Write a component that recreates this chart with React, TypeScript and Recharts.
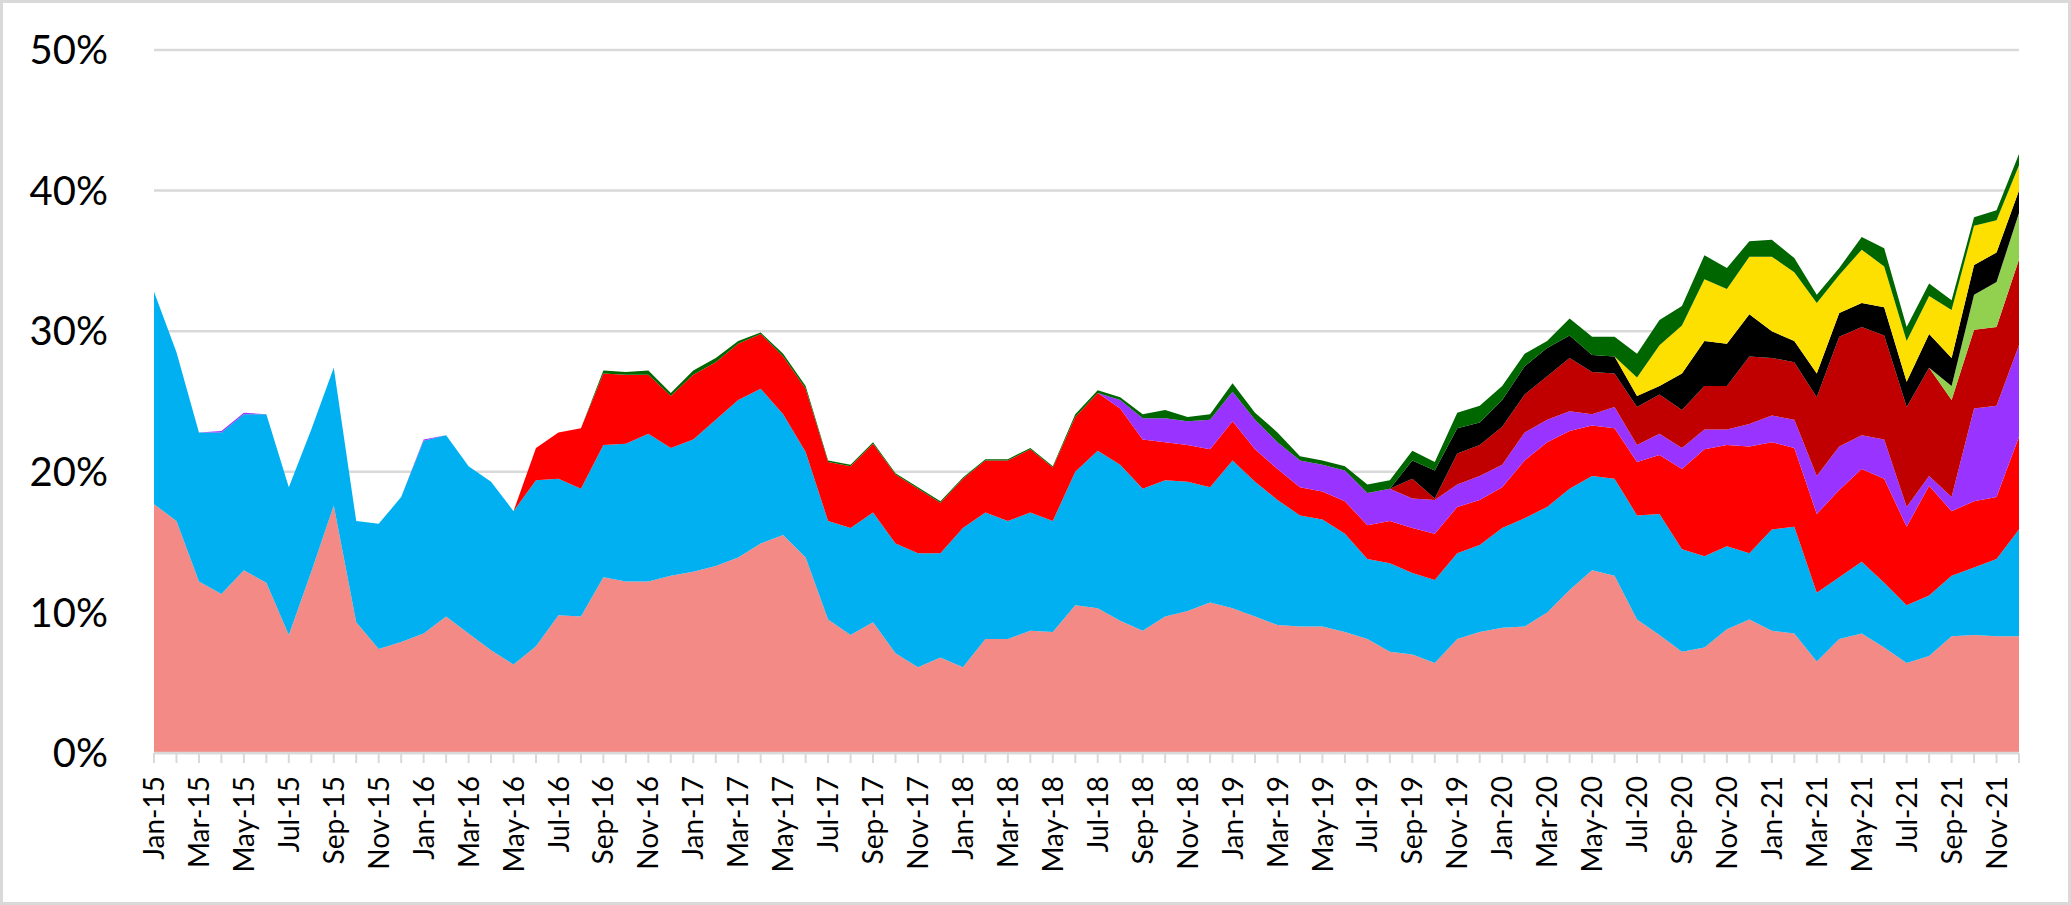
import { AreaChart, Area, XAxis, YAxis, CartesianGrid } from 'recharts'

const monthNames = ['Jan', 'Feb', 'Mar', 'Apr', 'May', 'Jun', 'Jul', 'Aug', 'Sep', 'Oct', 'Nov', 'Dec']
const years = ['15', '16', '17', '18', '19', '20', '21']
const months = years.flatMap((y) => monthNames.map((m) => `${m}-${y}`))

const yTicks = [0, 10, 20, 30, 40, 50]

// values in %, one per month, Jan-15 .. Dec-21
const pink = [
	17.7, 16.5, 12.2, 11.3, 13.0, 12.1, 8.4, 12.9, 17.6, 9.3, 7.4, 7.9,
	8.5, 9.7, 8.5, 7.3, 6.3, 7.6, 9.8, 9.7, 12.5, 12.2, 12.2, 12.6,
	12.9, 13.3, 13.9, 14.9, 15.5, 13.9, 9.5, 8.4, 9.3, 7.1, 6.1, 6.8,
	6.1, 8.1, 8.1, 8.7, 8.6, 10.5, 10.3, 9.4, 8.7, 9.7, 10.1, 10.7,
	10.3, 9.7, 9.1, 9.0, 9.0, 8.6, 8.1, 7.2, 7.0, 6.4, 8.1, 8.6,
	8.9, 9.0, 10.0, 11.6, 13.0, 12.6, 9.5, 8.4, 7.2, 7.5, 8.8, 9.5,
	8.7, 8.5, 6.5, 8.1, 8.5, 7.5, 6.4, 6.9, 8.3, 8.4, 8.3, 8.3,
]
const blue = [
	15.1, 12.0, 10.6, 11.5, 11.1, 12.0, 10.5, 10.1, 9.8, 7.2, 8.9, 10.3,
	13.7, 12.9, 11.9, 12.0, 10.9, 11.8, 9.7, 9.1, 9.4, 9.8, 10.5, 9.1,
	9.4, 10.4, 11.2, 11.0, 8.6, 7.5, 7.0, 7.6, 7.8, 7.8, 8.1, 7.4,
	9.9, 9.0, 8.4, 8.4, 7.9, 9.5, 11.2, 11.1, 10.1, 9.7, 9.2, 8.2,
	10.5, 9.6, 8.9, 7.9, 7.6, 7.0, 5.7, 6.3, 5.8, 5.9, 6.1, 6.2,
	7.1, 7.7, 7.5, 7.2, 6.7, 6.9, 7.4, 8.6, 7.3, 6.5, 5.9, 4.7,
	7.2, 7.6, 4.9, 4.4, 5.1, 4.6, 4.1, 4.3, 4.3, 4.8, 5.5, 7.6,
]
const red = [
	0, 0, 0, 0, 0, 0, 0, 0, 0, 0, 0, 0,
	0, 0, 0, 0, 0, 2.3, 3.3, 4.3, 5.1, 4.9, 4.2, 3.7,
	4.6, 4.1, 4.0, 3.9, 4.1, 4.5, 4.2, 4.4, 4.9, 4.9, 4.6, 3.6,
	3.5, 3.7, 4.3, 4.5, 3.8, 3.9, 4.1, 4.0, 3.5, 2.7, 2.6, 2.7,
	2.8, 2.3, 2.2, 2.0, 2.0, 2.3, 2.4, 3.0, 3.2, 3.3, 3.3, 3.2,
	2.9, 4.1, 4.6, 4.1, 3.6, 3.6, 3.8, 4.2, 5.7, 7.6, 7.2, 7.6,
	6.2, 5.6, 5.6, 6.2, 6.6, 7.4, 5.6, 7.8, 4.6, 4.7, 4.4, 6.6,
]
const purple = [
	0, 0, 0, 0.1, 0.1, 0, 0, 0, 0, 0, 0, 0,
	0.1, 0, 0, 0, 0, 0, 0, 0, 0, 0, 0, 0,
	0, 0, 0, 0, 0, 0, 0, 0, 0, 0, 0, 0,
	0, 0, 0, 0, 0, 0, 0, 0.6, 1.5, 1.7, 1.7, 2.1,
	2.1, 2.1, 1.9, 1.9, 1.9, 2.2, 2.3, 2.3, 2.1, 2.4, 1.6, 1.7,
	1.6, 2.0, 1.6, 1.4, 0.8, 1.5, 1.2, 1.5, 1.5, 1.4, 1.1, 1.6,
	1.9, 2.0, 2.7, 3.1, 2.4, 2.8, 1.4, 0.7, 1.0, 6.6, 6.5, 6.5,
]
const darkRed = [
	0, 0, 0, 0, 0, 0, 0, 0, 0, 0, 0, 0,
	0, 0, 0, 0, 0, 0, 0, 0, 0, 0, 0, 0,
	0, 0, 0, 0, 0, 0, 0, 0, 0, 0, 0, 0,
	0, 0, 0, 0, 0, 0, 0, 0, 0, 0, 0, 0,
	0, 0, 0, 0, 0, 0, 0, 0, 1.4, 0.1, 2.2, 2.2,
	2.7, 2.7, 3.1, 3.8, 3.0, 2.4, 2.7, 2.8, 2.7, 3.1, 3.1, 4.8,
	4.1, 4.1, 5.6, 7.8, 7.7, 7.4, 7.1, 7.7, 6.9, 5.6, 5.6, 6.1,
]
const lightGreen = [
	0, 0, 0, 0, 0, 0, 0, 0, 0, 0, 0, 0,
	0, 0, 0, 0, 0, 0, 0, 0, 0, 0, 0, 0,
	0, 0, 0, 0, 0, 0, 0, 0, 0, 0, 0, 0,
	0, 0, 0, 0, 0, 0, 0, 0, 0, 0, 0, 0,
	0, 0, 0, 0, 0, 0, 0, 0, 0, 0, 0, 0,
	0, 0, 0, 0, 0, 0, 0, 0, 0, 0, 0, 0,
	0, 0, 0, 0, 0, 0, 0, 0, 1.0, 2.5, 3.2, 3.3,
]
const black = [
	0, 0, 0, 0, 0, 0, 0, 0, 0, 0, 0, 0,
	0, 0, 0, 0, 0, 0, 0, 0, 0, 0, 0, 0,
	0, 0, 0, 0, 0, 0, 0, 0, 0, 0, 0, 0,
	0, 0, 0, 0, 0, 0, 0, 0, 0, 0, 0, 0,
	0, 0, 0, 0, 0, 0, 0, 0, 1.3, 2.0, 1.8, 1.6,
	1.9, 2.0, 2.0, 1.6, 1.2, 1.2, 0.8, 0.6, 2.6, 3.2, 3.0, 3.0,
	1.9, 1.5, 1.7, 1.7, 1.7, 2.0, 1.8, 2.4, 2.0, 2.1, 2.1, 1.6,
]
const yellow = [
	0, 0, 0, 0, 0, 0, 0, 0, 0, 0, 0, 0,
	0, 0, 0, 0, 0, 0, 0, 0, 0, 0, 0, 0,
	0, 0, 0, 0, 0, 0, 0, 0, 0, 0, 0, 0,
	0, 0, 0, 0, 0, 0, 0, 0, 0, 0, 0, 0,
	0, 0, 0, 0, 0, 0, 0, 0, 0, 0, 0, 0,
	0, 0, 0, 0, 0, 0, 1.3, 2.9, 3.4, 4.4, 3.9, 4.1,
	5.3, 4.9, 5.0, 2.7, 3.8, 2.9, 2.9, 2.7, 3.4, 2.8, 2.3, 1.8,
]
const darkGreen = [
	0, 0, 0, 0, 0, 0, 0, 0, 0, 0, 0, 0,
	0, 0, 0, 0, 0, 0, 0, 0, 0.2, 0.2, 0.3, 0.2,
	0.3, 0.3, 0.2, 0.1, 0.2, 0.2, 0.1, 0.1, 0.1, 0.1, 0.1, 0.1,
	0.1, 0.1, 0.1, 0.1, 0.1, 0.2, 0.2, 0.2, 0.3, 0.6, 0.3, 0.4,
	0.6, 0.5, 0.7, 0.3, 0.3, 0.3, 0.6, 0.6, 0.7, 0.6, 1.1, 1.2,
	1.0, 0.9, 0.5, 1.2, 1.3, 1.4, 1.7, 1.8, 1.4, 1.7, 1.5, 1.1,
	1.2, 1.0, 0.6, 0.5, 0.9, 1.3, 1.0, 0.9, 0.7, 0.6, 0.7, 0.8,
]

// bottom to top
const layers = [
	{ key: 'pink', values: pink, color: '#F48A86' },
	{ key: 'blue', values: blue, color: '#00B0F0' },
	{ key: 'red', values: red, color: '#FF0000' },
	{ key: 'purple', values: purple, color: '#9933FF' },
	{ key: 'darkRed', values: darkRed, color: '#C00000' },
	{ key: 'lightGreen', values: lightGreen, color: '#92D050' },
	{ key: 'black', values: black, color: '#000000' },
	{ key: 'yellow', values: yellow, color: '#FDDF00' },
	{ key: 'darkGreen', values: darkGreen, color: '#006600' },
]

const data = months.map((month, i) => {
	const row: Record<string, string | number> = { month }
	layers.forEach((l) => (row[l.key] = l.values[i]))
	return row
})

const FONT = 'Lato, Carlito, "Open Sans", sans-serif'
const GRID = '#D9D9D9'

const MonthTick = (props: any) => {
	const { x, y, payload } = props
	const idx = months.indexOf(payload.value)
	if (idx % 2 !== 0) return <g />
	return (
		<text
			x={x}
			y={y}
			transform={`rotate(-90, ${x}, ${y})`}
			textAnchor="end"
			dy="0.36em"
			fontSize={28}
			fontFamily={FONT}
			fill="#000"
		>
			{payload.value}
		</text>
	)
}

export default function App() {
	return (
		<div style={{ position: 'fixed', left: 0, top: 0, width: 2071, height: 905, background: '#fff' }}>
			<AreaChart width={2071} height={905} data={data} margin={{ top: 50, right: 52, bottom: 0, left: 0 }}>
				<CartesianGrid vertical={false} stroke={GRID} strokeWidth={2.5} />
				<XAxis
					dataKey="month"
					interval={0}
					height={152}
					tick={<MonthTick />}
					tickSize={10}
					tickMargin={13}
					tickLine={{ stroke: GRID, strokeWidth: 2 }}
					axisLine={{ stroke: GRID, strokeWidth: 2.7 }}
				/>
				<YAxis
					domain={[0, 50]}
					ticks={yTicks}
					width={154}
					axisLine={false}
					tickLine={false}
					tickSize={0}
					tickMargin={46}
					tickFormatter={(v: number) => `${v}%`}
					tick={{ fontSize: 40, fontFamily: FONT, fill: '#000' }}
				/>
				{layers.map((l) => (
					<Area
						key={l.key}
						type="linear"
						dataKey={l.key}
						stackId="1"
						stroke="none"
						fill={l.color}
						fillOpacity={1}
						dot={false}
						activeDot={false}
						isAnimationActive={false}
					/>
				))}
			</AreaChart>
			<div
				style={{
					position: 'absolute',
					inset: 0,
					border: `3.5px solid ${GRID}`,
					boxSizing: 'border-box',
					pointerEvents: 'none',
				}}
			/>
		</div>
	)
}
